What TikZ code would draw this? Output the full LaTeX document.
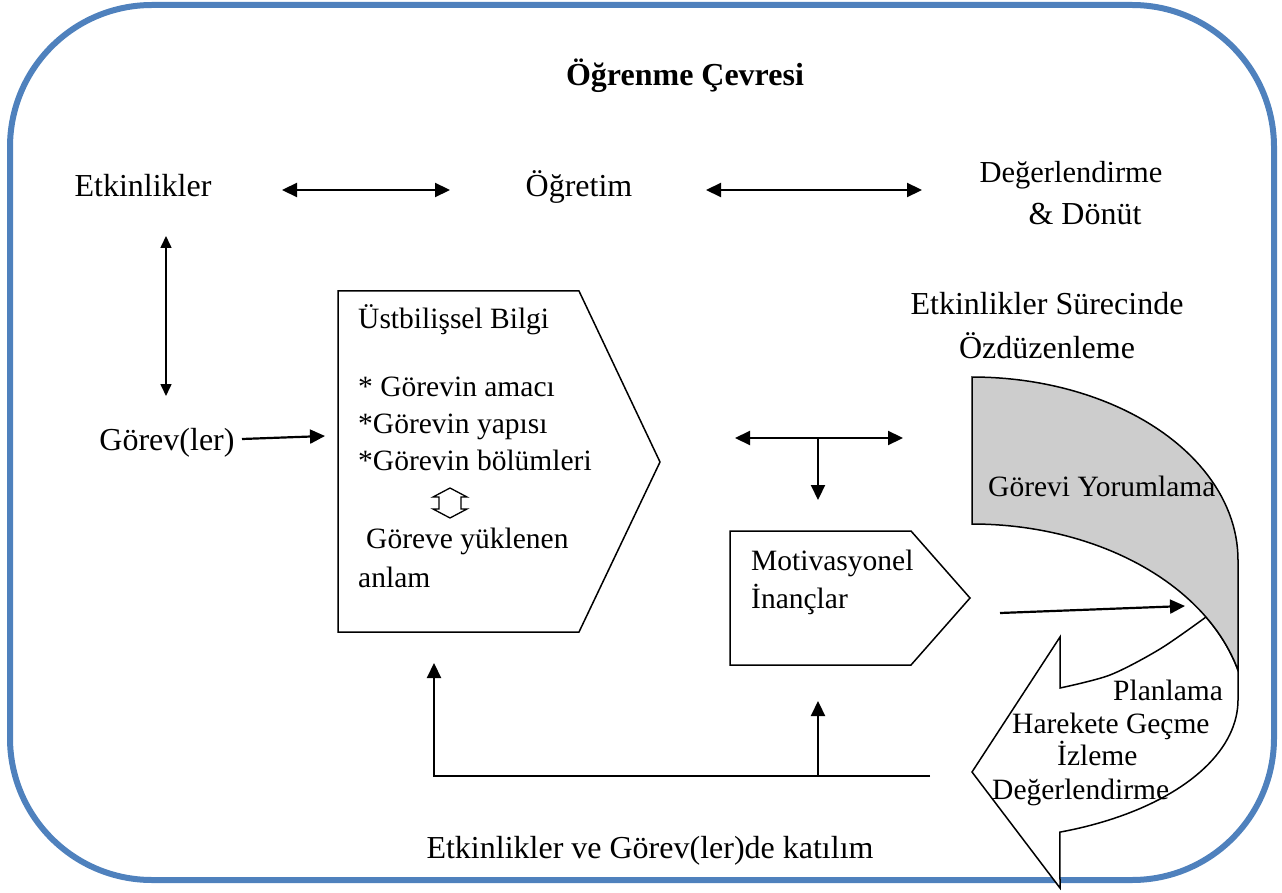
\documentclass[tikz,border=0pt]{standalone}
\usepackage{fontspec}
\setmainfont{Liberation Serif}
\usetikzlibrary{arrows.meta}
\definecolor{frameblue}{RGB}{79,129,189}
\definecolor{bandgray}{RGB}{205,205,205}

\begin{document}
\begin{tikzpicture}[x=1pt,y=-1pt,
  big/.style={font=\fontsize{32}{38}\selectfont, inner sep=0pt},
  small/.style={font=\fontsize{29.5}{36}\selectfont, inner sep=0pt},
  tipa/.style={-{Triangle[length=15pt,width=14pt]}},
  link/.style={line width=2.2pt, tipa},
  twoway/.style={line width=2.2pt, {Triangle[length=15pt,width=14pt]}-{Triangle[length=15pt,width=14pt]}},
  thinway/.style={line width=1.6pt, {Triangle[length=12pt,width=11pt]}-{Triangle[length=12pt,width=11pt]}},
  outline/.style={draw=black, line width=1.5pt, line join=miter}
]
\useasboundingbox (0,0) rectangle (1282,893);

% learning environment frame
\draw[frameblue, line width=6pt, rounded corners=142pt] (10,5) rectangle (1274,880);

% headings and labels
\node[big, anchor=base] (title) at (685,86) {\bfseries Öğrenme Çevresi};
\node[big, anchor=base] (etk) at (143,197) {Etkinlikler};
\node[big, anchor=base] (ogr) at (579,197) {Öğretim};
\node[inner sep=0pt, anchor=base, font=\fontsize{30.5}{36}\selectfont] (deg) at (1071,183) {Değerlendirme};
\node[big, anchor=base] (donut) at (1085,225) {\& Dönüt};
\node[big, anchor=base] (gorev) at (167,450) {Görev(ler)};
\node[big, anchor=base] (surec) at (1047,315) {Etkinlikler Sürecinde};
\node[big, anchor=base] (ozd) at (1047,358) {Özdüzenleme};
\node[big, anchor=base] (katilim) at (650,858) {Etkinlikler ve Görev(ler)de katılım};

% top row connectors
\coordinate (a1) at (282,190); \coordinate (a2) at (450,190);
\coordinate (b1) at (706,190); \coordinate (b2) at (922,190);
\draw[twoway] (a1) -- (a2);
\draw[twoway] (b1) -- (b2);
\coordinate (v1) at (166,236); \coordinate (v2) at (166,396);
\draw[thinway] (v1) -- (v2);

% metacognitive knowledge box
\coordinate (m1) at (338,291); \coordinate (m2) at (579,291);
\coordinate (m3) at (660,462); \coordinate (m4) at (579,632);
\coordinate (m5) at (338,632);
\draw[outline, fill=white] (m1) -- (m2) -- (m3) -- (m4) -- (m5) -- cycle;
\node[small, anchor=base west] (ust) at (358,328) {Üstbilişsel Bilgi};
\node[small, anchor=base west] (amac) at (358,396) {* Görevin amacı};
\node[small, anchor=base west] (yapi) at (358,433) {*Görevin yapısı};
\node[small, anchor=base west] (bolum) at (358,470) {*Görevin bölümleri};
\node[small, anchor=base west] (yuk) at (358,548) {\hspace*{8pt}Göreve yüklenen};
\node[small, anchor=base west] (anlam) at (358,587) {anlam};
% hollow up-down arrow
\draw[line width=1.3pt, line join=miter] (450,488) -- (467,497) -- (461,497) -- (461,509)
  -- (467,509) -- (450,518) -- (433,509) -- (439,509) -- (439,497) -- (433,497) -- cycle;

% task arrow
\coordinate (g1) at (242,439); \coordinate (g2) at (325,436);
\draw[link] (g1) -- (g2);

% T-shaped connector
\coordinate (t1) at (735,438); \coordinate (t2) at (903,438);
\coordinate (t3) at (818,438); \coordinate (t4) at (818,500);
\draw[twoway] (t1) -- (t2);
\draw[link] (t3) -- (t4);

% motivational beliefs box
\coordinate (n1) at (730,531); \coordinate (n2) at (911,531);
\coordinate (n3) at (970,598); \coordinate (n4) at (911,665);
\coordinate (n5) at (730,665);
\draw[outline, fill=white] (n1) -- (n2) -- (n3) -- (n4) -- (n5) -- cycle;
\node[small, anchor=base west] (motiv) at (751,570) {Motivasyonel};
\node[small, anchor=base west] (inanc) at (751,608) {İnançlar};

% self-regulation cycle: returning arrow
\draw[outline, fill=white] (1060,688)
  -- plot[smooth] coordinates {(1060,688) (1110,675) (1160,649) (1206,617)}
  -- plot[domain=31.7:14.7, samples=20, variable=\t] ({972+275*cos(\t)},{720-196*sin(\t)})
  -- (1238,700)
  -- plot[domain=0:70.7, samples=40, variable=\t] ({972+266*cos(\t)},{700+140*sin(\t)})
  -- (1060,888) -- (972,772) -- (1060,637) -- cycle;
% self-regulation cycle: shaded band
\draw[outline, fill=bandgray] (972,524) -- (972,377)
  -- plot[domain=90:0, samples=50, variable=\t] ({972+266*cos(\t)},{560-183*sin(\t)})
  -- (1238,670)
  -- plot[domain=14.7:90, samples=50, variable=\t] ({972+275*cos(\t)},{720-196*sin(\t)})
  -- cycle;
\node[small, anchor=base west] (yorum) at (988,496) {Görevi Yorumlama};
\node[small, anchor=base west] (plan) at (1113,700) {Planlama};
\node[small, anchor=base west] (hare) at (1012,733) {Harekete Geçme};
\node[small, anchor=base west] (izle) at (1057,765) {İzleme};
\node[small, anchor=base west] (degr) at (992,799) {Değerlendirme};

% beliefs to the cycle
\coordinate (c1) at (1000,613); \coordinate (c2) at (1185,606);
\draw[link] (c1) -- (c2);

% participation feedback
\coordinate (f1) at (930,776); \coordinate (f2) at (434,776); \coordinate (f3) at (434,663);
\coordinate (h1) at (818,776); \coordinate (h2) at (818,701);
\draw[link, line join=miter] (f1) -- (f2) -- (f3);
\draw[link] (h1) -- (h2);
\end{tikzpicture}
\end{document}
